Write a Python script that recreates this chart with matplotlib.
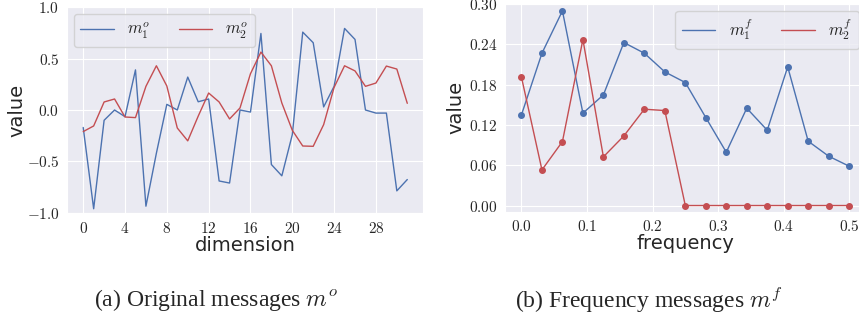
import matplotlib
matplotlib.use("Agg")
import matplotlib.pyplot as plt
import numpy as np
import seaborn as sns
from matplotlib.ticker import FuncFormatter, FixedLocator

sns.set_style("darkgrid")
plt.rcParams['mathtext.fontset'] = 'cm'

# original messages (32 dims)
m1_o = [-0.17, -0.96, -0.10, 0.00, -0.065, 0.39, -0.935, -0.42, 0.055, 0.00,
        0.32, 0.08, 0.107, -0.69, -0.71, 0.00, -0.02, 0.744, -0.53, -0.64,
        -0.24, 0.757, 0.654, 0.03, 0.23, 0.793, 0.686, 0.00, -0.03, -0.03,
        -0.786, -0.676]
m2_o = [-0.21, -0.155, 0.078, 0.107, -0.068, -0.074, 0.23, 0.43, 0.233, -0.175,
        -0.30, -0.06, 0.165, 0.078, -0.087, 0.02, 0.353, 0.563, 0.43, 0.068,
        -0.197, -0.35, -0.353, -0.142, 0.22, 0.43, 0.38, 0.23, 0.262, 0.427,
        0.398, 0.065]

# frequency messages (17 bins)
freq = np.linspace(0, 0.5, 17)
m1_f = [0.135, 0.2266, 0.2896, 0.1374, 0.1646, 0.2425, 0.2266, 0.1988, 0.183,
        0.1309, 0.0793, 0.1448, 0.112, 0.2063, 0.0957, 0.0734, 0.0585]
m2_f = [0.1909, 0.053, 0.0952, 0.247, 0.0724, 0.1036, 0.1433, 0.1413, 0.0,
        0.0, 0.0, 0.0, 0.0, 0.0, 0.0, 0.0, 0.0]

blue = '#4C72B0'
red = '#C44E52'

fig = plt.figure(figsize=(8.59, 3.24), dpi=100)
ax1 = fig.add_axes([0.078, 0.343, 0.415, 0.635])
ax2 = fig.add_axes([0.588, 0.347, 0.4196, 0.641])

dims = np.arange(len(m1_o))
ax1.plot(dims, m1_o, color=blue, lw=1, label=r'$m_1^o$')
ax1.plot(dims, m2_o, color=red, lw=1, label=r'$m_2^o$')
ax1.set_ylim(-1, 1)
ax1.xaxis.set_major_locator(FixedLocator(range(0, 32, 4)))
ax1.yaxis.set_major_locator(FixedLocator([-1.0, -0.5, 0.0, 0.5, 1.0]))
ax1.xaxis.set_major_formatter(FuncFormatter(lambda v, p: f'${v:.0f}$'))
ax1.yaxis.set_major_formatter(FuncFormatter(lambda v, p: f'${v:.1f}$'))
ax1.set_xlabel('dimension', fontsize=14, labelpad=0)
ax1.set_ylabel('value', fontsize=14, labelpad=0)
ax1.legend(loc='upper left', ncol=2, fontsize=12, handlelength=2.0,
           handletextpad=0.8, columnspacing=1.7, borderaxespad=0.4)

ax2.plot(freq, m1_f, color=blue, lw=1, marker='o', ms=4, label=r'$m_1^f$')
ax2.plot(freq, m2_f, color=red, lw=1, marker='o', ms=4, label=r'$m_2^f$')
ax2.set_ylim(-0.009, 0.30)
ax2.yaxis.set_major_locator(FixedLocator([0.0, 0.06, 0.12, 0.18, 0.24, 0.30]))
ax2.xaxis.set_major_locator(FixedLocator([0.0, 0.1, 0.2, 0.3, 0.4, 0.5]))
ax2.xaxis.set_major_formatter(FuncFormatter(lambda v, p: f'${v:.1f}$'))
ax2.yaxis.set_major_formatter(FuncFormatter(lambda v, p: f'${v:.2f}$'))
ax2.set_xlabel('frequency', fontsize=14, labelpad=0)
ax2.set_ylabel('value', fontsize=14, labelpad=2)
leg2 = ax2.legend(loc='upper right', ncol=2, fontsize=12, handlelength=2.0,
                  handletextpad=0.8, columnspacing=1.7, borderaxespad=0.4)
for h in leg2.legend_handles:
    h.set_marker('')

for ax in (ax1, ax2):
    ax.tick_params(labelsize=11, pad=2)

fig.text(216 / 859, 1 - 300 / 324, r'(a) Original messages $m^o$',
         family='Liberation Serif', fontsize=17, ha='center', va='center')
fig.text(649 / 859, 1 - 300 / 324, r'(b) Frequency messages $m^f$',
         family='Liberation Serif', fontsize=17, ha='center', va='center')

fig.savefig('out.png', dpi=100)
